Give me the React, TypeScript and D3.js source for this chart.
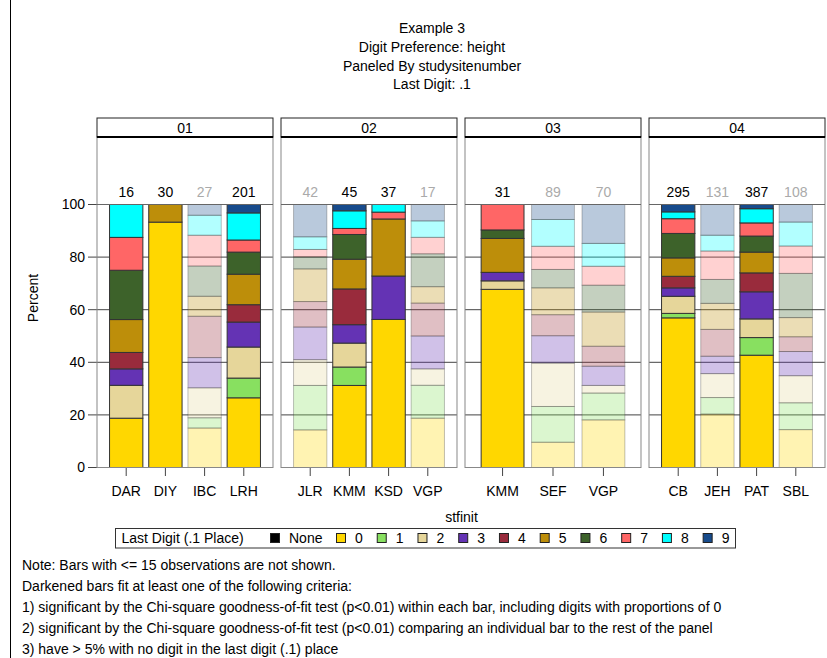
import React from "react";
import * as d3 from "d3";

// Panels and the bars (one per staff member) that belong to each
const panelIds = ["01", "02", "03", "04"];
const barPanel = ["01", "01", "01", "01", "02", "02", "02", "02", "03", "03", "03", "04", "04", "04", "04"];
const barSite = ["DAR", "DIY", "IBC", "LRH", "JLR", "KMM", "KSD", "VGP", "KMM", "SEF", "VGP", "CB", "JEH", "PAT", "SBL"];
const barCount = [16, 30, 27, 201, 42, 45, 37, 17, 31, 89, 70, 295, 131, 387, 108];
const barDarkened = [true, true, false, true, false, true, true, false, true, false, false, true, false, true, false];

// Percent of observations with each last digit, per bar
const pctNone = [0, 0, 0, 0, 0, 0, 0, 0, 0, 0, 0, 0, 0, 0, 0];
const pct0 = [18.75, 93.3, 15.0, 26.5, 14.3, 31.2, 56.3, 18.75, 67.74, 9.6, 18.1, 56.9, 20.3, 42.7, 14.4];
const pct1 = [0, 0, 3.9, 7.5, 16.9, 7.0, 0, 12.5, 0, 13.6, 10.2, 1.7, 6.3, 6.7, 10.2];
const pct2 = [12.5, 0, 11.4, 11.8, 9.8, 9.1, 0, 6.25, 3.23, 16.5, 2.9, 6.5, 9.1, 7.1, 10.3];
const pct3 = [6.25, 0, 11.5, 9.5, 12.4, 7.0, 16.5, 12.5, 3.23, 10.4, 7.3, 3.2, 6.6, 10.3, 9.2];
const pct4 = [6.25, 0, 15.7, 6.6, 9.7, 13.6, 0, 12.5, 0, 8.0, 7.6, 4.4, 10.2, 7.2, 5.6];
const pct5 = [12.5, 6.7, 7.6, 11.6, 12.4, 11.3, 21.7, 6.25, 12.9, 10.2, 13.0, 7.0, 9.9, 7.9, 7.3];
const pct6 = [18.75, 0, 11.5, 8.4, 4.6, 9.4, 0, 12.5, 3.23, 7.0, 10.2, 9.3, 9.1, 6.1, 16.8];
const pct7 = [12.5, 0, 11.7, 4.6, 2.8, 2.3, 2.6, 6.25, 9.67, 8.8, 7.2, 5.6, 10.8, 5.0, 10.4];
const pct8 = [12.5, 0, 7.6, 10.3, 4.8, 6.7, 2.9, 6.25, 0, 10.2, 8.7, 2.6, 6.0, 5.4, 9.1];
const pct9 = [0, 0, 4.1, 3.2, 12.3, 2.4, 0, 6.25, 0, 5.7, 14.8, 2.8, 11.7, 1.6, 6.7];

const digitKeys = ["None", "0", "1", "2", "3", "4", "5", "6", "7", "8", "9"];
const digitSeries = [pctNone, pct0, pct1, pct2, pct3, pct4, pct5, pct6, pct7, pct8, pct9];
const digitColors = ["#000000", "#FFD700", "#88E060", "#E6D69A", "#6433B4", "#992B3C", "#BD8E0A", "#3D622A", "#FF6666", "#00FFFF", "#174B8C"];

const yTicks = [0, 20, 40, 60, 80, 100];
const titleLines = ["Example 3", "Digit Preference: height", "Paneled By studysitenumber", "Last Digit: .1"];
const noteLines = [
  "Note: Bars with <= 15 observations are not shown.",
  "Darkened bars fit at least one of the following criteria:",
  "1) significant by the Chi-square goodness-of-fit test (p<0.01) within each bar, including digits with proportions of 0",
  "2) significant by the Chi-square goodness-of-fit test (p<0.01) comparing an individual bar to the rest of the panel",
  "3) have > 5% with no digit in the last digit (.1) place",
];

const FONT = "'Liberation Sans', Arial, Helvetica, sans-serif";
const FS = 14;
const W = 827;
const H = 658;

export default function App() {
  const y = d3.scaleLinear().domain([0, 100]).range([467.5, 204.5]);
  const panelX = d3.scaleBand<string>().domain(panelIds).range([97, 825]).paddingInner(0.0435).paddingOuter(0);
  const pw = panelX.bandwidth();
  const headerTop = 118;
  const headerBottom = 137;

  const stack = d3
    .stack<number, string>()
    .keys(digitKeys)
    .value((i, key) => digitSeries[digitKeys.indexOf(key)][i]);
  const layers = stack(barSite.map((_, i) => i));

  return (
    <svg width={W} height={H} style={{ position: "absolute", left: 0, top: 0, background: "#fff" }} fontFamily={FONT}>
      <rect x={0} y={0} width={W} height={H} fill="#fff" />
      <line x1={10.5} x2={10.5} y1={0} y2={H} stroke="#000" strokeWidth={1} />

      {titleLines.map((t, i) => (
        <text key={t} x={432} y={28 + i * 18.8} dy="0.35em" textAnchor="middle" fontSize={FS}>
          {t}
        </text>
      ))}

      {/* y axis */}
      <text transform="translate(33,298) rotate(-90)" textAnchor="middle" dy="0.35em" fontSize={FS}>
        Percent
      </text>
      {yTicks.map((t) => (
        <g key={t}>
          <line x1={88} x2={97} y1={y(t)} y2={y(t)} stroke="#444" />
          <text x={85} y={y(t)} dy="0.35em" textAnchor="end" fontSize={FS}>
            {t}
          </text>
        </g>
      ))}

      {panelIds.map((pid) => {
        const x0 = panelX(pid)!;
        const idx = barPanel.map((p, i) => (p === pid ? i : -1)).filter((i) => i >= 0);
        const xb = d3
          .scaleBand<number>()
          .domain(idx)
          .range([x0, x0 + pw])
          .paddingInner(0.15)
          .paddingOuter(0.32);
        return (
          <g key={pid}>
            {/* grid */}
            {yTicks.slice(1).map((t) => (
              <line key={t} x1={x0} x2={x0 + pw} y1={y(t)} y2={y(t)} stroke="#444" strokeWidth={1} />
            ))}
            {/* stacked bars */}
            {idx.map((i) => (
              <g key={i}>
                {layers.map((layer, k) => {
                  const seg = layer[i];
                  const h = y(seg[0]) - y(seg[1]);
                  if (h <= 0) return null;
                  return (
                    <rect
                      key={k}
                      x={xb(i)!}
                      y={y(seg[1])}
                      width={xb.bandwidth()}
                      height={h}
                      fill={digitColors[k]}
                      fillOpacity={barDarkened[i] ? 1 : 0.3}
                      stroke="#333"
                      strokeOpacity={barDarkened[i] ? 1 : 0.3}
                      strokeWidth={1}
                    />
                  );
                })}
                <text
                  x={xb(i)! + xb.bandwidth() / 2}
                  y={192}
                  dy="0.35em"
                  textAnchor="middle"
                  fontSize={FS}
                  fill={barDarkened[i] ? "#000" : "#AAAAAA"}
                >
                  {barCount[i]}
                </text>
                <line
                  x1={xb(i)! + xb.bandwidth() / 2}
                  x2={xb(i)! + xb.bandwidth() / 2}
                  y1={467.5}
                  y2={476}
                  stroke="#444"
                />
                <text x={xb(i)! + xb.bandwidth() / 2} y={491} dy="0.35em" textAnchor="middle" fontSize={FS}>
                  {barSite[i]}
                </text>
              </g>
            ))}
            {/* panel frame */}
            <rect x={x0} y={headerBottom} width={pw} height={467.5 - headerBottom} fill="none" stroke="#888" />
            <line x1={x0} x2={x0 + pw} y1={y(100)} y2={y(100)} stroke="#666" />
            <rect x={x0} y={headerTop} width={pw} height={headerBottom - headerTop} fill="#fff" stroke="#222" />
            <line x1={x0} x2={x0 + pw} y1={headerBottom} y2={headerBottom} stroke="#000" strokeWidth={2} />
            <text x={x0 + pw / 2} y={128} dy="0.35em" textAnchor="middle" fontSize={FS}>
              {pid}
            </text>
          </g>
        );
      })}

      <text x={461.5} y={517} dy="0.35em" textAnchor="middle" fontSize={FS}>
        stfinit
      </text>

      {/* legend */}
      <rect x={115.5} y={528.5} width={620} height={19.5} fill="#fff" stroke="#333" />
      <text x={121.5} y={538.5} dy="0.35em" fontSize={FS}>
        Last Digit (.1 Place)
      </text>
      {digitKeys.map((k, i) => {
        const sx = i === 0 ? 270 : 336 + (i - 1) * 40.74;
        return (
          <g key={k}>
            <rect x={sx + 0.5} y={533.5} width={9} height={9} fill={digitColors[i]} stroke="#222" />
            <text x={sx + 19} y={538.5} dy="0.35em" fontSize={FS}>
              {k}
            </text>
          </g>
        );
      })}

      {noteLines.map((t, i) => (
        <text key={i} x={22} y={565 + i * 21} dy="0.35em" fontSize={FS}>
          {t}
        </text>
      ))}
    </svg>
  );
}
